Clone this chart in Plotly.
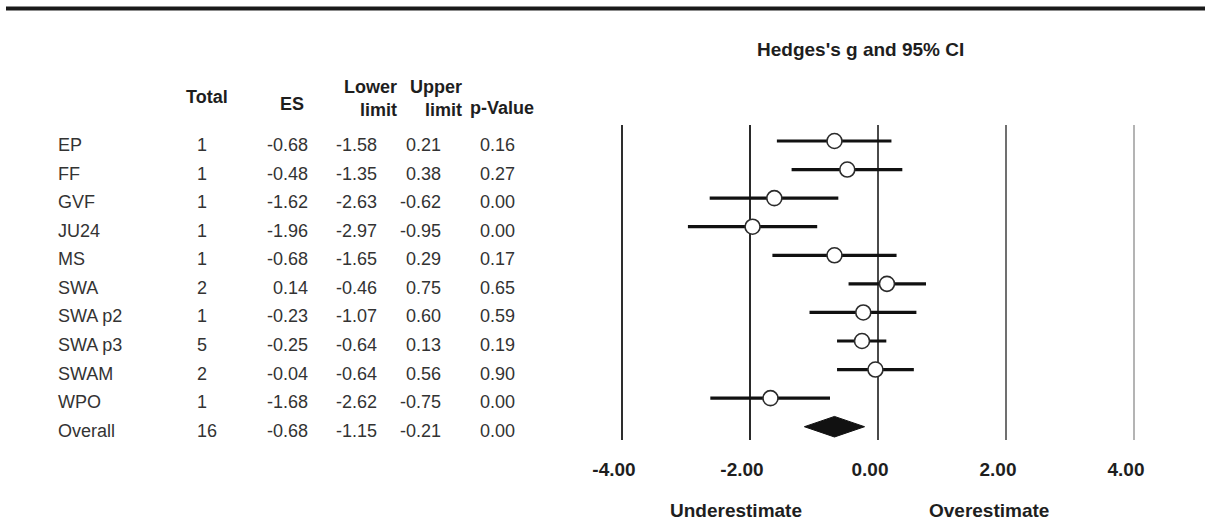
import plotly.graph_objects as go

# ---- data -------------------------------------------------------------
studies = ["EP", "FF", "GVF", "JU24", "MS", "SWA", "SWA p2", "SWA p3",
           "SWAM", "WPO", "Overall"]
totals = [1, 1, 1, 1, 1, 2, 1, 5, 2, 1, 16]
effect_sizes = [-0.68, -0.48, -1.62, -1.96, -0.68, 0.14, -0.23, -0.25,
                -0.04, -1.68, -0.68]
lower_limits = [-1.58, -1.35, -2.63, -2.97, -1.65, -0.46, -1.07, -0.64,
                -0.64, -2.62, -1.15]
upper_limits = [0.21, 0.38, -0.62, -0.95, 0.29, 0.75, 0.60, 0.13,
                0.56, -0.75, -0.21]
p_values = [0.16, 0.27, 0.00, 0.00, 0.17, 0.65, 0.59, 0.19, 0.90, 0.00, 0.00]

x_ticks = [-4, -2, 0, 2, 4]
x_tick_labels = ["-4.00", "-2.00", "0.00", "2.00", "4.00"]

# ---- styling ----------------------------------------------------------
W, H = 1208, 524
FONT = "Liberation Sans"
TEXT_COLOR = "#333333"
HEAD_COLOR = "#1e1e1e"
grid_colors = ["#2e2e2e", "#2a2a2a", "#4a4a4a", "#707070", "#b4b4b4"]
diamond_half = 0.36          # half height of the summary diamond, in rows


def px_x(p):
    return p / W


def px_y(p):
    return 1 - p / H


n = len(studies)
rows = list(range(n))
study_rows = rows[:-1]
overall = rows[-1]

fig = go.Figure()

# confidence-interval whiskers
ci_x, ci_y = [], []
for r in study_rows:
    ci_x += [lower_limits[r], upper_limits[r], None]
    ci_y += [r, r, None]
fig.add_trace(go.Scatter(
    x=ci_x, y=ci_y, mode="lines",
    line=dict(color="#111111", width=3.2),
    hoverinfo="skip", showlegend=False))

# point estimates
fig.add_trace(go.Scatter(
    x=[effect_sizes[r] for r in study_rows], y=study_rows, mode="markers",
    marker=dict(symbol="circle", size=15, color="white",
                line=dict(color="#2b2b2b", width=1.6)),
    showlegend=False))

# pooled estimate diamond
fig.add_trace(go.Scatter(
    x=[lower_limits[overall], effect_sizes[overall], upper_limits[overall],
       effect_sizes[overall], lower_limits[overall]],
    y=[overall, overall - diamond_half, overall, overall + diamond_half,
       overall],
    mode="lines", fill="toself", fillcolor="#111111",
    line=dict(color="#111111", width=1), showlegend=False))

# vertical reference lines at each tick
shapes = []
for t, c in zip(x_ticks, grid_colors):
    shapes.append(dict(type="line", xref="x", yref="y domain",
                       x0=t, x1=t, y0=0, y1=1, layer="below",
                       line=dict(color=c, width=2)))
# heavy rule across the top
shapes.append(dict(type="line", xref="paper", yref="paper",
                   x0=px_x(6), x1=px_x(1205), y0=px_y(8.5), y1=px_y(8.5),
                   line=dict(color="#1a1a1a", width=4)))

# ---- table to the left ------------------------------------------------
annotations = []
text_shift = -4
columns = [
    (studies, 57, "left"),
    ([str(v) for v in totals], 196, "left"),
    ([f"{v:.2f}" for v in effect_sizes], 309, "right"),
    ([f"{v:.2f}" for v in lower_limits], 378, "right"),
    ([f"{v:.2f}" for v in upper_limits], 442, "right"),
    ([f"{v:.2f}" for v in p_values], 516, "right"),
]
for values, xpos, anchor in columns:
    for r, txt in zip(rows, values):
        annotations.append(dict(
            text=txt, xref="paper", yref="y", x=px_x(xpos), y=r,
            xanchor=anchor, yanchor="middle", yshift=text_shift,
            showarrow=False, borderpad=0,
            font=dict(family=FONT, size=18, color=TEXT_COLOR)))

headers = [
    ("<b>Total</b>", 207, 97, "center", "center"),
    ("<b>ES</b>", 292, 104, "center", "center"),
    ("<b>Lower</b><br><b>limit</b>", 398, 98, "right", "right"),
    ("<b>Upper</b><br><b>limit</b>", 463, 98, "right", "right"),
    ("<b>p-Value</b>", 502, 108, "center", "center"),
]
for txt, xp, yp, xa, al in headers:
    annotations.append(dict(
        text=txt, xref="paper", yref="paper", x=px_x(xp), y=px_y(yp),
        xanchor=xa, yanchor="middle", align=al, showarrow=False,
        borderpad=0,
        font=dict(family=FONT, size=18, color=HEAD_COLOR)))

annotations.append(dict(
    text="<b>Hedges's g and 95% CI</b>", xref="paper", yref="paper",
    x=px_x(860), y=px_y(50), xanchor="center", yanchor="middle",
    showarrow=False, font=dict(family=FONT, size=19, color=HEAD_COLOR)))
annotations.append(dict(
    text="<b>Underestimate</b>", xref="paper", yref="paper",
    x=px_x(736), y=px_y(510), xanchor="center", yanchor="middle",
    showarrow=False, font=dict(family=FONT, size=19, color=HEAD_COLOR)))
annotations.append(dict(
    text="<b>Overestimate</b>", xref="paper", yref="paper",
    x=px_x(989), y=px_y(510), xanchor="center", yanchor="middle",
    showarrow=False, font=dict(family=FONT, size=19, color=HEAD_COLOR)))

# ---- layout -----------------------------------------------------------
fig.update_layout(
    width=W, height=H,
    margin=dict(l=0, r=0, t=0, b=0),
    paper_bgcolor="white", plot_bgcolor="white",
    showlegend=False,
    shapes=shapes, annotations=annotations,
    xaxis=dict(
        domain=[px_x(590), px_x(1166)], range=[-4.5, 4.5],
        tickvals=x_ticks, ticktext=x_tick_labels,
        showgrid=False, zeroline=False, showline=False, ticks="",
        ticklabelshift=-8, ticklabelstandoff=16,
        tickfont=dict(family=FONT, size=19, color=HEAD_COLOR,
                      weight="bold")),
    yaxis=dict(
        domain=[px_y(440), px_y(125)], range=[10.465, -0.56],
        showgrid=False, zeroline=False, showline=False,
        showticklabels=False, ticks=""),
)

fig.write_html("out.html")
